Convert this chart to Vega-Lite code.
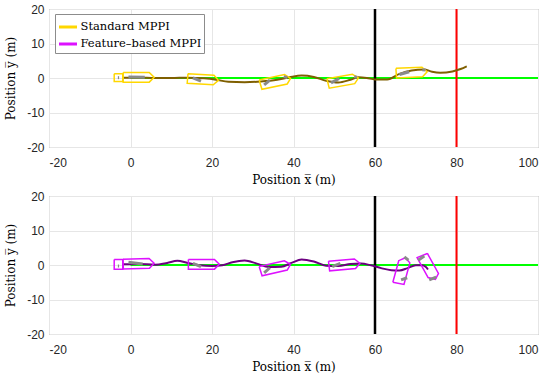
{
  "$schema": "https://vega.github.io/schema/vega-lite/v6.json",
  "background": "white",
  "padding": {"left": 4, "top": 2, "right": 10, "bottom": 5},
  "config": {
    "view": {"stroke": "#8c8c8c", "strokeWidth": 1},
    "axis": {"grid": true, "gridColor": "#e6e6e6", "gridWidth": 1, "domain": false, "ticks": false, "tickSize": 0,
      "labelFont": "Liberation Sans", "labelFontSize": 12, "labelColor": "#262626",
      "titleFont": "DejaVu Serif", "titleFontSize": 12, "titleFontWeight": "normal", "titleColor": "#000000"},
    "axisX": {"labelPadding": 10, "titlePadding": 6},
    "axisY": {"labelPadding": 5, "titlePadding": 9},
    "legend": {"fillColor": "white", "strokeColor": "#8c8c8c", "padding": 2.5, "labelFont": "DejaVu Serif", "labelFontSize": 11.5, "labelColor": "#000000",
      "symbolType": "stroke", "symbolSize": 324, "symbolStrokeWidth": 3, "labelOffset": 2, "rowPadding": -1}
  },
  "datasets": {
    "refs": [
      {"kind": "target", "x": 0, "x2": 100, "y": 0, "y2": 0},
      {"kind": "start", "x": 60, "x2": 60, "y": -20, "y2": 20},
      {"kind": "finish", "x": 80, "x2": 80, "y": -20, "y2": 20}
    ],
    "traj": [
      {"panel": "top", "i": 0, "x": -2, "y": 0.1}, {"panel": "top", "i": 1, "x": 2, "y": 0.1}, {"panel": "top", "i": 2, "x": 6, "y": 0.0},
      {"panel": "top", "i": 3, "x": 10, "y": 0.0}, {"panel": "top", "i": 4, "x": 14, "y": 0.1}, {"panel": "top", "i": 5, "x": 18, "y": -0.1},
      {"panel": "top", "i": 6, "x": 21, "y": -0.5}, {"panel": "top", "i": 7, "x": 24, "y": -1.1}, {"panel": "top", "i": 8, "x": 28, "y": -1.2},
      {"panel": "top", "i": 9, "x": 32, "y": -1.0}, {"panel": "top", "i": 10, "x": 36, "y": -0.5}, {"panel": "top", "i": 11, "x": 39, "y": 0.2},
      {"panel": "top", "i": 12, "x": 42, "y": 0.7}, {"panel": "top", "i": 13, "x": 45, "y": 0.3}, {"panel": "top", "i": 14, "x": 48, "y": -0.8},
      {"panel": "top", "i": 15, "x": 51, "y": -1.3}, {"panel": "top", "i": 16, "x": 54, "y": -0.5}, {"panel": "top", "i": 17, "x": 56, "y": 0.2},
      {"panel": "top", "i": 18, "x": 58, "y": 0.0}, {"panel": "top", "i": 19, "x": 60, "y": -0.4}, {"panel": "top", "i": 20, "x": 63, "y": -0.4},
      {"panel": "top", "i": 21, "x": 66, "y": 1.2}, {"panel": "top", "i": 22, "x": 69, "y": 2.2}, {"panel": "top", "i": 23, "x": 72, "y": 2.5},
      {"panel": "top", "i": 24, "x": 74, "y": 1.8}, {"panel": "top", "i": 25, "x": 76, "y": 1.5}, {"panel": "top", "i": 26, "x": 79, "y": 1.9},
      {"panel": "top", "i": 27, "x": 81, "y": 2.6}, {"panel": "top", "i": 28, "x": 82.5, "y": 3.4},
      {"panel": "bottom", "i": 0, "x": -2, "y": 0.2}, {"panel": "bottom", "i": 1, "x": 2, "y": 0.3}, {"panel": "bottom", "i": 2, "x": 6, "y": 0.1},
      {"panel": "bottom", "i": 3, "x": 9, "y": 0.6}, {"panel": "bottom", "i": 4, "x": 11.5, "y": 1.2}, {"panel": "bottom", "i": 5, "x": 14, "y": 0.6},
      {"panel": "bottom", "i": 6, "x": 17, "y": -0.1}, {"panel": "bottom", "i": 7, "x": 20, "y": -0.3}, {"panel": "bottom", "i": 8, "x": 22.5, "y": -0.1},
      {"panel": "bottom", "i": 9, "x": 25, "y": 0.8}, {"panel": "bottom", "i": 10, "x": 28, "y": 1.3}, {"panel": "bottom", "i": 11, "x": 31, "y": 0.4},
      {"panel": "bottom", "i": 12, "x": 34, "y": -0.6}, {"panel": "bottom", "i": 13, "x": 37, "y": -0.5}, {"panel": "bottom", "i": 14, "x": 39.5, "y": 0.6},
      {"panel": "bottom", "i": 15, "x": 42, "y": 1.6}, {"panel": "bottom", "i": 16, "x": 45, "y": 1.0}, {"panel": "bottom", "i": 17, "x": 48, "y": -0.2},
      {"panel": "bottom", "i": 18, "x": 51, "y": -0.3}, {"panel": "bottom", "i": 19, "x": 54, "y": 0.3}, {"panel": "bottom", "i": 20, "x": 56.5, "y": 0.4},
      {"panel": "bottom", "i": 21, "x": 59, "y": -0.1}, {"panel": "bottom", "i": 22, "x": 61.5, "y": -0.9}, {"panel": "bottom", "i": 23, "x": 64, "y": -1.5},
      {"panel": "bottom", "i": 24, "x": 66, "y": -1.6}, {"panel": "bottom", "i": 25, "x": 68, "y": -0.9}, {"panel": "bottom", "i": 26, "x": 70, "y": -0.1},
      {"panel": "bottom", "i": 27, "x": 71.5, "y": -0.1}, {"panel": "bottom", "i": 28, "x": 72.5, "y": -0.6}, {"panel": "bottom", "i": 29, "x": 73, "y": -1.3}
    ],
    "veh": [
      {"panel": "top", "method": "Standard MPPI", "id": "T1b", "k": 0, "x": -4.0, "y": 1.2}, {"panel": "top", "method": "Standard MPPI", "id": "T1b", "k": 1, "x": -1.9, "y": 1.2},
      {"panel": "top", "method": "Standard MPPI", "id": "T1b", "k": 2, "x": -1.9, "y": -1.0}, {"panel": "top", "method": "Standard MPPI", "id": "T1b", "k": 3, "x": -4.0, "y": -1.0},
      {"panel": "top", "method": "Standard MPPI", "id": "T1b", "k": 4, "x": -4.0, "y": 1.2},
      {"panel": "top", "method": "Standard MPPI", "id": "T1", "k": 0, "x": -1.8, "y": 1.6}, {"panel": "top", "method": "Standard MPPI", "id": "T1", "k": 1, "x": 4.6, "y": 1.6},
      {"panel": "top", "method": "Standard MPPI", "id": "T1", "k": 2, "x": 5.8, "y": 0.2}, {"panel": "top", "method": "Standard MPPI", "id": "T1", "k": 3, "x": 4.6, "y": -1.2},
      {"panel": "top", "method": "Standard MPPI", "id": "T1", "k": 4, "x": -1.8, "y": -1.2}, {"panel": "top", "method": "Standard MPPI", "id": "T1", "k": 5, "x": -1.8, "y": 1.6},
      {"panel": "top", "method": "Standard MPPI", "id": "T2", "k": 0, "x": 14.11, "y": 1.26}, {"panel": "top", "method": "Standard MPPI", "id": "T2", "k": 1, "x": 20.49, "y": 0.82},
      {"panel": "top", "method": "Standard MPPI", "id": "T2", "k": 2, "x": 21.59, "y": -0.67}, {"panel": "top", "method": "Standard MPPI", "id": "T2", "k": 3, "x": 20.3, "y": -1.98},
      {"panel": "top", "method": "Standard MPPI", "id": "T2", "k": 4, "x": 13.91, "y": -1.53}, {"panel": "top", "method": "Standard MPPI", "id": "T2", "k": 5, "x": 14.11, "y": 1.26},
      {"panel": "top", "method": "Standard MPPI", "id": "T3", "k": 0, "x": 31.57, "y": -0.56}, {"panel": "top", "method": "Standard MPPI", "id": "T3", "k": 1, "x": 37.78, "y": 0.99},
      {"panel": "top", "method": "Standard MPPI", "id": "T3", "k": 2, "x": 39.29, "y": -0.08}, {"panel": "top", "method": "Standard MPPI", "id": "T3", "k": 3, "x": 38.46, "y": -1.73},
      {"panel": "top", "method": "Standard MPPI", "id": "T3", "k": 4, "x": 32.25, "y": -3.28}, {"panel": "top", "method": "Standard MPPI", "id": "T3", "k": 5, "x": 31.57, "y": -0.56},
      {"panel": "top", "method": "Standard MPPI", "id": "T4", "k": 0, "x": 48.19, "y": -0.22}, {"panel": "top", "method": "Standard MPPI", "id": "T4", "k": 1, "x": 54.45, "y": 1.11},
      {"panel": "top", "method": "Standard MPPI", "id": "T4", "k": 2, "x": 55.92, "y": -0.01}, {"panel": "top", "method": "Standard MPPI", "id": "T4", "k": 3, "x": 55.03, "y": -1.63},
      {"panel": "top", "method": "Standard MPPI", "id": "T4", "k": 4, "x": 48.77, "y": -2.96}, {"panel": "top", "method": "Standard MPPI", "id": "T4", "k": 5, "x": 48.19, "y": -0.22},
      {"panel": "top", "method": "Standard MPPI", "id": "T5", "k": 0, "x": 65.13, "y": 2.8}, {"panel": "top", "method": "Standard MPPI", "id": "T5", "k": 1, "x": 71.52, "y": 3.13},
      {"panel": "top", "method": "Standard MPPI", "id": "T5", "k": 2, "x": 72.8, "y": 1.8}, {"panel": "top", "method": "Standard MPPI", "id": "T5", "k": 3, "x": 71.67, "y": 0.34},
      {"panel": "top", "method": "Standard MPPI", "id": "T5", "k": 4, "x": 65.28, "y": 0.0}, {"panel": "top", "method": "Standard MPPI", "id": "T5", "k": 5, "x": 65.13, "y": 2.8},
      {"panel": "bottom", "method": "Feature–based MPPI", "id": "B1b", "k": 0, "x": -4.0, "y": 1.6}, {"panel": "bottom", "method": "Feature–based MPPI", "id": "B1b", "k": 1, "x": -1.9, "y": 1.6},
      {"panel": "bottom", "method": "Feature–based MPPI", "id": "B1b", "k": 2, "x": -1.9, "y": -1.2}, {"panel": "bottom", "method": "Feature–based MPPI", "id": "B1b", "k": 3, "x": -4.0, "y": -1.2},
      {"panel": "bottom", "method": "Feature–based MPPI", "id": "B1b", "k": 4, "x": -4.0, "y": 1.6},
      {"panel": "bottom", "method": "Feature–based MPPI", "id": "B1", "k": 0, "x": -1.85, "y": 1.67}, {"panel": "bottom", "method": "Feature–based MPPI", "id": "B1", "k": 1, "x": 4.55, "y": 1.89},
      {"panel": "bottom", "method": "Feature–based MPPI", "id": "B1", "k": 2, "x": 5.8, "y": 0.53}, {"panel": "bottom", "method": "Feature–based MPPI", "id": "B1", "k": 3, "x": 4.65, "y": -0.91},
      {"panel": "bottom", "method": "Feature–based MPPI", "id": "B1", "k": 4, "x": -1.75, "y": -1.13}, {"panel": "bottom", "method": "Feature–based MPPI", "id": "B1", "k": 5, "x": -1.85, "y": 1.67},
      {"panel": "bottom", "method": "Feature–based MPPI", "id": "B2", "k": 0, "x": 14.2, "y": 1.6}, {"panel": "bottom", "method": "Feature–based MPPI", "id": "B2", "k": 1, "x": 20.6, "y": 1.6},
      {"panel": "bottom", "method": "Feature–based MPPI", "id": "B2", "k": 2, "x": 21.8, "y": 0.2}, {"panel": "bottom", "method": "Feature–based MPPI", "id": "B2", "k": 3, "x": 20.6, "y": -1.2},
      {"panel": "bottom", "method": "Feature–based MPPI", "id": "B2", "k": 4, "x": 14.2, "y": -1.2}, {"panel": "bottom", "method": "Feature–based MPPI", "id": "B2", "k": 5, "x": 14.2, "y": 1.6},
      {"panel": "bottom", "method": "Feature–based MPPI", "id": "B3", "k": 0, "x": 31.57, "y": -0.43}, {"panel": "bottom", "method": "Feature–based MPPI", "id": "B3", "k": 1, "x": 37.75, "y": 1.23},
      {"panel": "bottom", "method": "Feature–based MPPI", "id": "B3", "k": 2, "x": 39.27, "y": 0.18}, {"panel": "bottom", "method": "Feature–based MPPI", "id": "B3", "k": 3, "x": 38.47, "y": -1.48},
      {"panel": "bottom", "method": "Feature–based MPPI", "id": "B3", "k": 4, "x": 32.29, "y": -3.14}, {"panel": "bottom", "method": "Feature–based MPPI", "id": "B3", "k": 5, "x": 31.57, "y": -0.43},
      {"panel": "bottom", "method": "Feature–based MPPI", "id": "B4", "k": 0, "x": 48.58, "y": 1.1}, {"panel": "bottom", "method": "Feature–based MPPI", "id": "B4", "k": 1, "x": 54.94, "y": 1.76},
      {"panel": "bottom", "method": "Feature–based MPPI", "id": "B4", "k": 2, "x": 56.28, "y": 0.5}, {"panel": "bottom", "method": "Feature–based MPPI", "id": "B4", "k": 3, "x": 55.23, "y": -1.02},
      {"panel": "bottom", "method": "Feature–based MPPI", "id": "B4", "k": 4, "x": 48.87, "y": -1.69}, {"panel": "bottom", "method": "Feature–based MPPI", "id": "B4", "k": 5, "x": 48.58, "y": 1.1},
      {"panel": "bottom", "method": "Feature–based MPPI", "id": "B5", "k": 0, "x": 64.38, "y": -4.99}, {"panel": "bottom", "method": "Feature–based MPPI", "id": "B5", "k": 1, "x": 65.82, "y": 1.25},
      {"panel": "bottom", "method": "Feature–based MPPI", "id": "B5", "k": 2, "x": 67.46, "y": 2.1}, {"panel": "bottom", "method": "Feature–based MPPI", "id": "B5", "k": 3, "x": 68.55, "y": 0.62},
      {"panel": "bottom", "method": "Feature–based MPPI", "id": "B5", "k": 4, "x": 67.11, "y": -5.62}, {"panel": "bottom", "method": "Feature–based MPPI", "id": "B5", "k": 5, "x": 64.38, "y": -4.99},
      {"panel": "bottom", "method": "Feature–based MPPI", "id": "B6", "k": 0, "x": 72.86, "y": 3.34}, {"panel": "bottom", "method": "Feature–based MPPI", "id": "B6", "k": 1, "x": 75.57, "y": -2.46},
      {"panel": "bottom", "method": "Feature–based MPPI", "id": "B6", "k": 2, "x": 74.81, "y": -4.14}, {"panel": "bottom", "method": "Feature–based MPPI", "id": "B6", "k": 3, "x": 73.03, "y": -3.65},
      {"panel": "bottom", "method": "Feature–based MPPI", "id": "B6", "k": 4, "x": 70.33, "y": 2.15}, {"panel": "bottom", "method": "Feature–based MPPI", "id": "B6", "k": 5, "x": 72.86, "y": 3.34}
    ],
    "grey": [
      {"panel": "top", "id": "g0", "k": 0, "x": -3.1, "y": 0.1}, {"panel": "top", "id": "g0", "k": 1, "x": -2.8, "y": 0.1},
      {"panel": "top", "id": "g1", "k": 0, "x": -0.5, "y": 0.3}, {"panel": "top", "id": "g1", "k": 1, "x": 3.5, "y": 0.2},
      {"panel": "top", "id": "g2", "k": 0, "x": 15.3, "y": 0.05}, {"panel": "top", "id": "g2", "k": 1, "x": 17.3, "y": -0.9},
      {"panel": "top", "id": "g3", "k": 0, "x": 32.8, "y": -2.0}, {"panel": "top", "id": "g3", "k": 1, "x": 34.2, "y": -0.6},
      {"panel": "top", "id": "g4", "k": 0, "x": 37.6, "y": 0.4}, {"panel": "top", "id": "g4", "k": 1, "x": 38.5, "y": 0.1},
      {"panel": "top", "id": "g5", "k": 0, "x": 49.2, "y": -1.4}, {"panel": "top", "id": "g5", "k": 1, "x": 51.2, "y": -0.15},
      {"panel": "top", "id": "g6", "k": 0, "x": 54.9, "y": 0.4}, {"panel": "top", "id": "g6", "k": 1, "x": 55.6, "y": 0.2},
      {"panel": "top", "id": "g7", "k": 0, "x": 66.0, "y": 1.0}, {"panel": "top", "id": "g7", "k": 1, "x": 68.4, "y": 1.8},
      {"panel": "top", "id": "g8", "k": 0, "x": 71.6, "y": 2.4}, {"panel": "top", "id": "g8", "k": 1, "x": 72.4, "y": 2.3},
      {"panel": "bottom", "id": "h0", "k": 0, "x": -3.1, "y": -0.3}, {"panel": "bottom", "id": "h0", "k": 1, "x": -2.8, "y": -0.3},
      {"panel": "bottom", "id": "h1", "k": 0, "x": -0.5, "y": 0.8}, {"panel": "bottom", "id": "h1", "k": 1, "x": 3.0, "y": 0.3},
      {"panel": "bottom", "id": "h2", "k": 0, "x": 15.3, "y": 0.5}, {"panel": "bottom", "id": "h2", "k": 1, "x": 17.3, "y": -0.5},
      {"panel": "bottom", "id": "h3", "k": 0, "x": 32.8, "y": -2.3}, {"panel": "bottom", "id": "h3", "k": 1, "x": 34.2, "y": -0.8},
      {"panel": "bottom", "id": "h4", "k": 0, "x": 49.5, "y": -0.5}, {"panel": "bottom", "id": "h4", "k": 1, "x": 51.5, "y": 0.5},
      {"panel": "bottom", "id": "h5", "k": 0, "x": 67.2, "y": 2.35}, {"panel": "bottom", "id": "h5", "k": 1, "x": 68.2, "y": 1.4},
      {"panel": "bottom", "id": "h6", "k": 0, "x": 66.4, "y": -4.3}, {"panel": "bottom", "id": "h6", "k": 1, "x": 67.9, "y": -3.7},
      {"panel": "bottom", "id": "h7", "k": 0, "x": 70.6, "y": 1.4}, {"panel": "bottom", "id": "h7", "k": 1, "x": 72.1, "y": 2.6},
      {"panel": "bottom", "id": "h8", "k": 0, "x": 73.3, "y": -4.3}, {"panel": "bottom", "id": "h8", "k": 1, "x": 75.0, "y": -3.5}
    ]
  },
  "spacing": 3,
  "resolve": {"scale": {"color": "independent"}, "legend": {"color": "independent"}},
  "vconcat": [
    {
      "width": 489, "height": 138,
      "encoding": {
        "x": {"field": "x", "type": "quantitative", "scale": {"domain": [-20, 100], "nice": false, "zero": false},
          "axis": {"title": "Position x\u0305 (m)", "values": [-20, 0, 20, 40, 60, 80, 100], "labelExpr": "'' + datum.value"}},
        "y": {"field": "y", "type": "quantitative", "scale": {"domain": [-20, 20], "nice": false, "zero": false},
          "axis": {"title": "Position y\u0305 (m)", "values": [-20, -10, 0, 10, 20], "labelExpr": "'' + datum.value"}}
      },
      "layer": [
        {"data": {"name": "refs"}, "transform": [{"filter": "datum.kind == 'target'"}], "mark": {"type": "rule", "color": "#00ff00", "strokeWidth": 2}, "encoding": {"x2": {"field": "x2"}, "y2": {"field": "y2"}}},
        {"data": {"name": "refs"}, "transform": [{"filter": "datum.kind == 'start'"}], "mark": {"type": "rule", "color": "#000000", "strokeWidth": 2.5}, "encoding": {"x2": {"field": "x2"}, "y2": {"field": "y2"}}},
        {"data": {"name": "refs"}, "transform": [{"filter": "datum.kind == 'finish'"}], "mark": {"type": "rule", "color": "#ff0000", "strokeWidth": 2}, "encoding": {"x2": {"field": "x2"}, "y2": {"field": "y2"}}},
        {"data": {"name": "traj"}, "transform": [{"filter": "datum.panel == 'top'"}], "mark": {"type": "line", "color": "#7f5f00", "strokeWidth": 2, "interpolate": "monotone"}, "encoding": {"order": {"field": "i"}}},
        {"data": {"name": "veh"}, "transform": [{"filter": "datum.panel == 'top'"}], "mark": {"type": "line", "strokeWidth": 1.5},
          "encoding": {"detail": {"field": "id"}, "order": {"field": "k"},
            "color": {"field": "method", "type": "nominal", "scale": {"domain": ["Standard MPPI", "Feature–based MPPI"], "range": ["#ffd700", "#dd11ff"]},
              "legend": {"title": null, "orient": "none", "legendX": 6, "legendY": 5}}}},
        {"data": {"name": "grey"}, "transform": [{"filter": "datum.panel == 'top'"}], "mark": {"type": "line", "color": "#8a8a8a", "strokeWidth": 3},
          "encoding": {"detail": {"field": "id"}, "order": {"field": "k"}}}
      ]
    },
    {
      "width": 489, "height": 138,
      "encoding": {
        "x": {"field": "x", "type": "quantitative", "scale": {"domain": [-20, 100], "nice": false, "zero": false},
          "axis": {"title": "Position x\u0305 (m)", "values": [-20, 0, 20, 40, 60, 80, 100], "labelExpr": "'' + datum.value"}},
        "y": {"field": "y", "type": "quantitative", "scale": {"domain": [-20, 20], "nice": false, "zero": false},
          "axis": {"title": "Position y\u0305 (m)", "values": [-20, -10, 0, 10, 20], "labelExpr": "'' + datum.value"}}
      },
      "layer": [
        {"data": {"name": "refs"}, "transform": [{"filter": "datum.kind == 'target'"}], "mark": {"type": "rule", "color": "#00ff00", "strokeWidth": 2}, "encoding": {"x2": {"field": "x2"}, "y2": {"field": "y2"}}},
        {"data": {"name": "refs"}, "transform": [{"filter": "datum.kind == 'start'"}], "mark": {"type": "rule", "color": "#000000", "strokeWidth": 2.5}, "encoding": {"x2": {"field": "x2"}, "y2": {"field": "y2"}}},
        {"data": {"name": "refs"}, "transform": [{"filter": "datum.kind == 'finish'"}], "mark": {"type": "rule", "color": "#ff0000", "strokeWidth": 2}, "encoding": {"x2": {"field": "x2"}, "y2": {"field": "y2"}}},
        {"data": {"name": "traj"}, "transform": [{"filter": "datum.panel == 'bottom'"}], "mark": {"type": "line", "color": "#6c0080", "strokeWidth": 2, "interpolate": "monotone"}, "encoding": {"order": {"field": "i"}}},
        {"data": {"name": "veh"}, "transform": [{"filter": "datum.panel == 'bottom'"}], "mark": {"type": "line", "strokeWidth": 1.5},
          "encoding": {"detail": {"field": "id"}, "order": {"field": "k"},
            "color": {"field": "method", "type": "nominal", "scale": {"domain": ["Standard MPPI", "Feature–based MPPI"], "range": ["#ffd700", "#dd11ff"]}, "legend": null}}},
        {"data": {"name": "grey"}, "transform": [{"filter": "datum.panel == 'bottom'"}], "mark": {"type": "line", "color": "#8a8a8a", "strokeWidth": 3},
          "encoding": {"detail": {"field": "id"}, "order": {"field": "k"}}}
      ]
    }
  ]
}
